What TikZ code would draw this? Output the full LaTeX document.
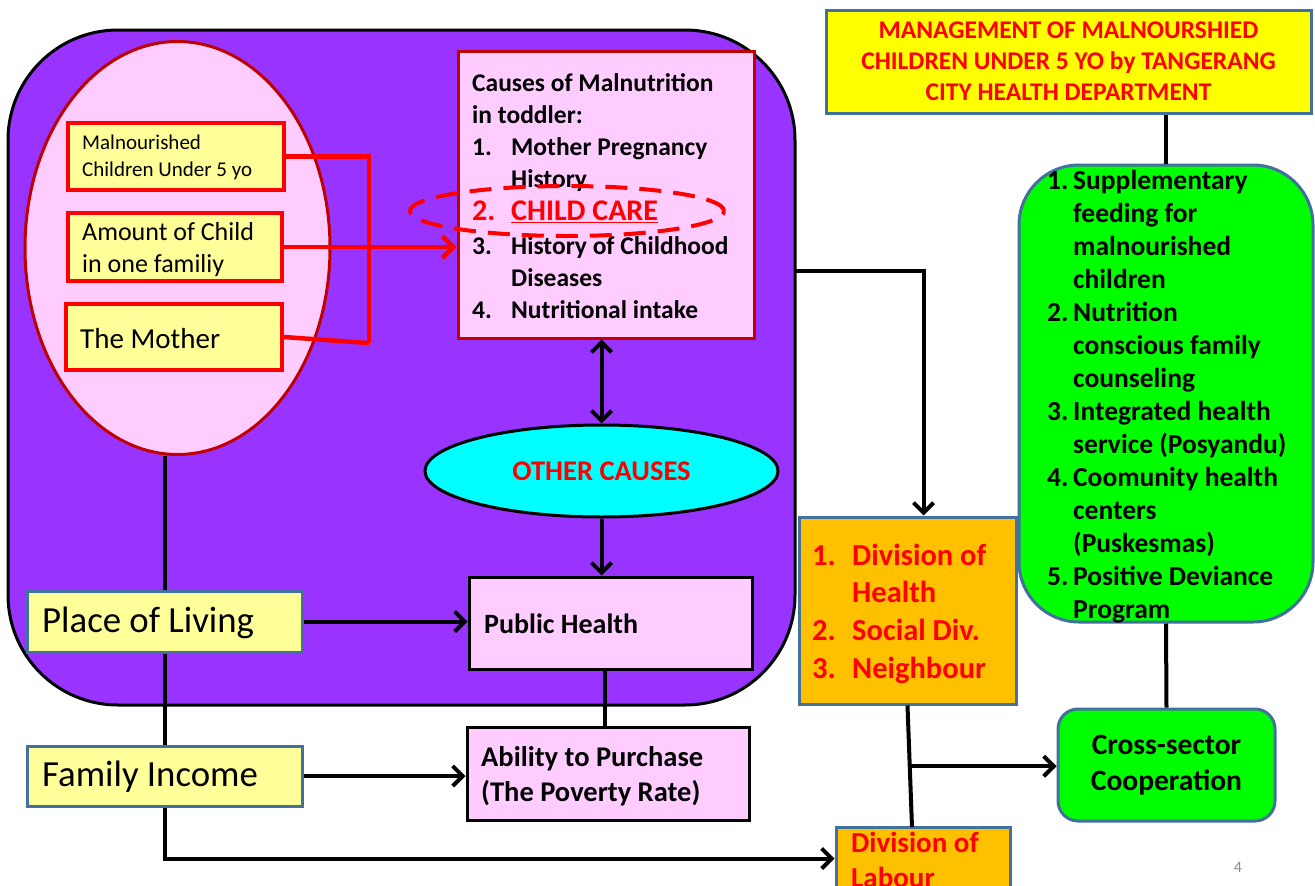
\documentclass[tikz,border=0pt]{standalone}
\usepackage{fontspec}
\setmainfont{Carlito}
\usetikzlibrary{arrows.meta,shapes.geometric,calc}
\definecolor{purp}{HTML}{9933FF}
\definecolor{pinkf}{HTML}{FFCCFF}
\definecolor{lyel}{HTML}{FFFF99}
\definecolor{dred}{HTML}{C00000}
\definecolor{bgray}{HTML}{41719C}
\definecolor{orng}{HTML}{FFC000}
\definecolor{grn}{HTML}{00FF00}
\definecolor{cyn}{HTML}{00FFFF}
\definecolor{ttl}{HTML}{FFFF00}
\definecolor{rd}{HTML}{FF0000}
\definecolor{pgray}{HTML}{8C8C8C}
\tikzset{
  sbox/.style={draw, rectangle, inner sep=0pt, line width=3pt},
  redbox/.style={sbox, draw=rd, fill=lyel, line width=3.5pt},
  ylbox/.style={sbox, draw=bgray, fill=lyel},
  pkbox/.style={sbox, draw=black, fill=pinkf},
  txt/.style={anchor=north west, inner sep=0pt},
  blk/.style={draw=black, line width=4pt},
  arr/.style={blk, -{Straight Barb[length=10pt,width=20pt]}},
  redl/.style={draw=rd, line width=4.5pt},
  redarr/.style={redl, -{Straight Barb[length=11pt,width=22pt]}},
}
\begin{document}
\begin{tikzpicture}[x=1pt,y=-1pt]
\useasboundingbox (0,0) rectangle (1315,886);
\clip (0,0) rectangle (1315,886);
\fill[white] (0,0) rectangle (1315,886);

% big purple rounded box
\node[draw=black, fill=purp, line width=3pt, rectangle, rounded corners=110pt,
      minimum width=787pt, minimum height=675pt, inner sep=0pt] (big) at (401.5,367.5) {};

% pink ellipse
\node[ellipse, draw=dred, fill=pinkf, line width=3pt, minimum width=305pt,
      minimum height=413pt, inner sep=0pt] (ell) at (177.5,248) {};

% yellow boxes in ellipse
\node[redbox, minimum width=216pt, minimum height=67pt] (mal) at (176,156.5) {};
\node[txt, font=\fontsize{21}{27}\selectfont] (malT) at (82,130.5)
  {\begin{tabular}{@{}l@{}}Malnourished\\Children Under 5 yo\end{tabular}};
\node[redbox, minimum width=214pt, minimum height=68pt] (amt) at (175,247) {};
\node[txt, font=\fontsize{26}{32}\selectfont] (amtT) at (82,218)
  {\begin{tabular}{@{}l@{}}Amount of Child\\in one familiy\end{tabular}};
\node[redbox, minimum width=216pt, minimum height=66pt] (mot) at (174,337) {};
\node[anchor=west, inner sep=0pt, font=\fontsize{29}{34}\selectfont] (motT) at (80,339) {The Mother};

% causes box
\node[sbox, draw=dred, fill=pinkf, minimum width=296pt, minimum height=287pt] (causes) at (606,194.5) {};
\node[txt, font=\bfseries\fontsize{25.5}{32}\selectfont] (causesT) at (472,68.5)
 {\begin{tabular}{@{}l@{}}
 Causes of Malnutrition\\
 in toddler:\\
 \makebox[39pt][l]{1.}Mother Pregnancy\\
 \hspace*{39pt}History\\[1pt]
 {\color{rd}\fontsize{30}{32}\selectfont\makebox[39pt][l]{2.}\underline{CHILD CARE}}\\[2pt]
 \makebox[39pt][l]{3.}History of Childhood\\
 \hspace*{39pt}Diseases\\
 \makebox[39pt][l]{4.}Nutritional intake
 \end{tabular}};
\node[ellipse, draw=rd, dash pattern=on 22pt off 12pt, line width=4pt, minimum width=314pt,
      minimum height=50pt, inner sep=0pt] (dash) at (567,211) {};

% red connectors
\coordinate (rj) at (369,343);
\draw[redl] (mal.east) -| (rj);
\draw[redl] (mot.east) -- (rj);
\draw[redarr] (amt.east) -- (amt.east -| causes.west);

% other causes
\node[ellipse, draw=black, fill=cyn, line width=3pt, minimum width=353pt, minimum height=92pt,
      inner sep=0pt, text=rd, font=\bfseries\fontsize{28.5}{32}\selectfont] (oth) at (601.5,471) {OTHER CAUSES};
\draw[blk, {Straight Barb[length=10pt,width=20pt]}-{Straight Barb[length=10pt,width=20pt]}]
  (oth.north |- causes.south) -- (oth.north);

% public health & ability
\node[pkbox, minimum width=283pt, minimum height=92pt] (ph) at (610.5,623) {};
\node[anchor=west, inner sep=0pt, font=\bfseries\fontsize{28}{34}\selectfont] (phT) at (484,624) {Public Health};
\node[pkbox, minimum width=282pt, minimum height=93pt] (ab) at (608,773.5) {};
\node[txt, font=\bfseries\fontsize{28.5}{35}\selectfont] (abT) at (481,741.5)
  {\begin{tabular}{@{}l@{}}Ability to Purchase\\(The Poverty Rate)\end{tabular}};
\draw[arr] (oth.south) -- (oth.south |- ph.north);
\draw[blk] ([xshift=-6]ph.south) -- ([xshift=-6]ph.south |- ab.north);

% place of living / family income
\node[ylbox, minimum width=275pt, minimum height=61pt] (pl) at (164.5,621.5) {};
\node[anchor=west, inner sep=0pt, font=\fontsize{36.8}{42}\selectfont] (plT) at (42,623) {Place of Living};
\node[ylbox, minimum width=275pt, minimum height=60pt] (fi) at (164.5,776) {};
\node[anchor=west, inner sep=0pt, font=\fontsize{36.8}{42}\selectfont] (fiT) at (42,777) {Family Income};
\draw[blk] (ell.south -| pl.north) -- (pl.north);
\draw[blk] (pl.south) -- (fi.north);
\draw[arr] (pl.east) -- (pl.east -| ph.west);
\draw[arr] (fi.east) -- (fi.east -| ab.west);

% title
\node[sbox, draw=bgray, fill=ttl, minimum width=485pt, minimum height=103pt, align=center,
      text=rd, font=\bfseries\fontsize{25.5}{31}\selectfont] (title) at (1068.5,61.5)
  {MANAGEMENT OF MALNOURSHIED\\CHILDREN UNDER 5 YO by TANGERANG\\CITY HEALTH DEPARTMENT};

% green list box
\node[sbox, draw=bgray, fill=grn, rounded corners=60pt, minimum width=294pt, minimum height=457pt] (green) at (1166,393.5) {};
\node[txt, font=\bfseries\fontsize{27.5}{33}\selectfont] (greenT) at (1047,166)
 {\begin{tabular}{@{}l@{}}
 \makebox[26pt][l]{1.}Supplementary\\
 \hspace*{26pt}feeding for\\
 \hspace*{26pt}malnourished\\
 \hspace*{26pt}children\\
 \makebox[26pt][l]{2.}Nutrition\\
 \hspace*{26pt}conscious family\\
 \hspace*{26pt}counseling\\
 \makebox[26pt][l]{3.}Integrated health\\
 \hspace*{26pt}service (Posyandu)\\
 \makebox[26pt][l]{4.}Coomunity health\\
 \hspace*{26pt}centers\\
 \hspace*{26pt}(Puskesmas)\\
 \makebox[26pt][l]{5.}Positive Deviance\\
 \hspace*{26pt}Program
 \end{tabular}};

% division boxes
\node[sbox, draw=bgray, fill=orng, minimum width=217pt, minimum height=187pt] (div) at (907.5,610.5) {};
\node[txt, text=rd, font=\bfseries\fontsize{30.5}{37.7}\selectfont] (divT) at (812,538.5)
 {\begin{tabular}{@{}l@{}}
 \makebox[40pt][l]{1.}Division of\\
 \hspace*{40pt}Health\\
 \makebox[40pt][l]{2.}Social Div.\\
 \makebox[40pt][l]{3.}Neighbour
 \end{tabular}};
\node[sbox, draw=bgray, fill=orng, minimum width=174pt, minimum height=63pt] (lab) at (923,858.5) {};
\node[txt, text=rd, font=\bfseries\fontsize{29}{35}\selectfont] (labT) at (851,827.5)
 {\begin{tabular}{@{}l@{}}Division of\\Labour\end{tabular}};

% cross-sector
\node[sbox, draw=bgray, fill=grn, rounded corners=20pt, minimum width=217pt, minimum height=112pt,
      align=center, font=\bfseries\fontsize{29.5}{36}\selectfont] (cross) at (1166.5,765)
  {Cross-sector\\Cooperation};

% black connectors right side
\coordinate (bo) at (795,271);
\draw[arr] (bo) -| ([xshift=16]div.north);
\coordinate (lt) at (912,827);
\draw[blk] (div.south) -- (lt);
\coordinate (mid) at ($(div.south)!0.5!(lt)$);
\draw[arr] (mid) -- (mid -| cross.west);
\draw[blk] (title.south -| green.north) -- (green.north);
\draw[blk] (green.south) -- (cross.north);
\draw[arr] (fi.south) |- (lab.west);

% page number
\node[text=pgray, font=\fontsize{16}{18}\selectfont] (pg) at (1238,867) {4};
\end{tikzpicture}
\end{document}
